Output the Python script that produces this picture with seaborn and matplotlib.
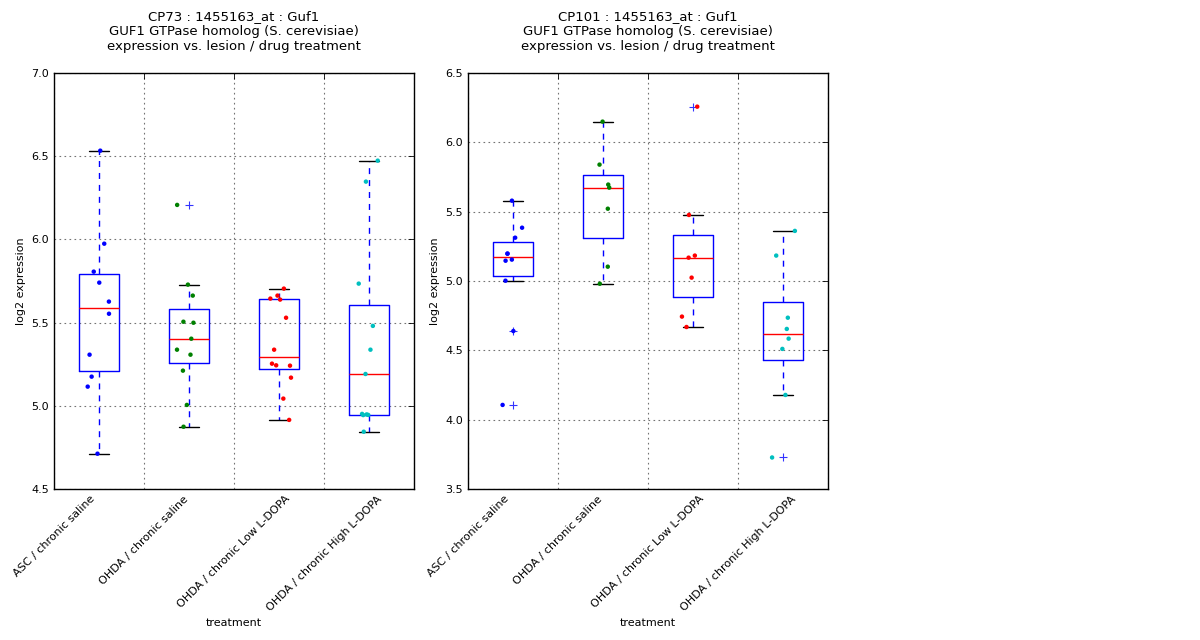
import numpy as np
import pandas as pd
import matplotlib
matplotlib.use("Agg")
import matplotlib.pyplot as plt
import seaborn as sns

# treatment groups (x categories)
groups = ["ASC / chronic saline", "OHDA / chronic saline",
          "OHDA / chronic Low L-DOPA", "OHDA / chronic High L-DOPA"]
group_colors = ["b", "g", "r", "c"]

# CP73 values
cp73_asc = [6.533, 5.974, 5.806, 5.740, 5.626, 5.553, 5.307, 5.175, 5.115, 4.712]
cp73_ohda_saline = [6.207, 5.728, 5.662, 5.505, 5.499, 5.403, 5.337, 5.307, 5.211, 5.005, 4.874]
cp73_low = [5.704, 5.662, 5.644, 5.638, 5.529, 5.337, 5.253, 5.243, 5.241, 5.169, 5.043, 4.915]
cp73_high = [6.473, 6.347, 5.734, 5.480, 5.337, 5.191, 4.951, 4.948, 4.945, 4.944, 4.844]

# CP101 values
cp101_asc = [5.579, 5.384, 5.312, 5.197, 5.197, 5.154, 5.146, 5.002, 4.639, 4.106]
cp101_ohda_saline = [6.149, 5.839, 5.695, 5.673, 5.521, 5.103, 4.980]
cp101_low = [6.257, 5.476, 5.183, 5.168, 5.024, 4.743, 4.668]
cp101_high = [5.361, 5.183, 4.735, 4.654, 4.584, 4.510, 4.178, 3.727]

panels = [
    ("CP73", [cp73_asc, cp73_ohda_saline, cp73_low, cp73_high], (4.5, 7.0)),
    ("CP101", [cp101_asc, cp101_ohda_saline, cp101_low, cp101_high], (3.5, 6.5)),
]


def to_frame(series):
    rows = []
    for g, vals in zip(groups, series):
        for v in vals:
            rows.append({"treatment": g, "value": v})
    return pd.DataFrame(rows)


sns.set_style("white")
plt.rcParams["font.family"] = ["DejaVu Sans"]
plt.rcParams["xtick.direction"] = "in"
plt.rcParams["ytick.direction"] = "in"
for key in ["text.color", "axes.labelcolor", "xtick.color", "ytick.color"]:
    plt.rcParams[key] = "black"

np.random.seed(3)

fig, axes = plt.subplots(1, 2, figsize=(12, 6.4), dpi=100)
fig.subplots_adjust(left=0.045, right=0.69, top=0.886, bottom=0.236, wspace=0.15)

for ax, (name, series, ylim) in zip(axes, panels):
    df = to_frame(series)

    sns.boxplot(data=df, x="treatment", y="value", order=groups, ax=ax,
                fill=False, color="blue", width=0.45, whis=1.5, linewidth=1,
                boxprops=dict(color="blue"),
                medianprops=dict(color="red"),
                whiskerprops=dict(color="blue", linestyle="--", dashes=(4.3, 4.3)),
                capprops=dict(color="black"),
                flierprops=dict(marker="+", markeredgecolor="blue",
                                markersize=6, markeredgewidth=0.8, alpha=0.8))

    sns.stripplot(data=df, x="treatment", y="value", order=groups, ax=ax,
                  hue="treatment", palette=group_colors, legend=False,
                  jitter=0.14, size=3.2, linewidth=0, zorder=5)

    ax.set_ylim(*ylim)
    ax.set_xlim(-0.5, 3.5)
    ax.set_yticks(np.arange(ylim[0], ylim[1] + 0.01, 0.5))
    ax.set_yticklabels([f"{t:.1f}" for t in ax.get_yticks()], fontsize=8)
    # ticks (and grid) sit on the category boundaries, labels centred on them
    ax.set_xticks(np.arange(len(groups) + 1) - 0.5)
    ax.set_xticklabels(groups + [""], rotation=45, ha="center", fontsize=8)
    ax.tick_params(top=True, right=True, length=4, width=0.6)
    ax.grid(True, color="0.45", linestyle=":", linewidth=0.8, dashes=(1.5, 3))
    ax.set_axisbelow(True)
    for sp in ax.spines.values():
        sp.set_color("black")
        sp.set_linewidth(1)
    ax.set_xlabel("treatment", fontsize=8)
    ax.set_ylabel("log2 expression", fontsize=8)
    ax.set_title(f"{name} : 1455163_at : Guf1\nGUF1 GTPase homolog (S. cerevisiae)\n"
                 "expression vs. lesion / drug treatment", fontsize=9.5, pad=16.5)

fig.savefig("out.png", dpi=100, facecolor="white")
